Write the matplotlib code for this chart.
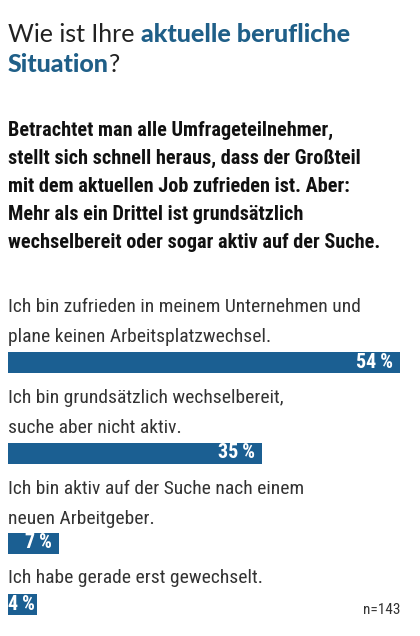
import matplotlib.pyplot as plt

# Daten
labels = [
    "Ich bin zufrieden in meinem Unternehmen und\nplane keinen Arbeitsplatzwechsel.",
    "Ich bin grundsätzlich wechselbereit,\nsuche aber nicht aktiv.",
    "Ich bin aktiv auf der Suche nach einem\nneuen Arbeitgeber.",
    "Ich habe gerade erst gewechselt.",
]
values = [54, 35, 7, 4]
sample_size = 143

title_plain = "Wie ist Ihre "
title_bold_1 = "aktuelle berufliche"
title_bold_2 = "Situation"
intro = ("Betrachtet man alle Umfrageteilnehmer,\n"
         "stellt sich schnell heraus, dass der Großteil\n"
         "mit dem aktuellen Job zufrieden ist. Aber:\n"
         "Mehr als ein Drittel ist grundsätzlich\n"
         "wechselbereit oder sogar aktiv auf der Suche.")

BLUE = "#1b5f92"
TITLE_BLUE = "#1f5f88"
W, H = 420, 636
NARROW = "Roboto Condensed"
TITLE_FONT = "Lato"

fig = plt.figure(figsize=(W / 100, H / 100), dpi=100)
fig.patch.set_facecolor("white")


def px(x, y):
    return x / W, 1 - y / H


# Titel, gemischte Schrift
renderer = fig.canvas.get_renderer()
t1 = fig.text(*px(8, 35), title_plain, fontsize=18, family=TITLE_FONT,
              weight="normal", color="#222222", va="center")
bb = t1.get_window_extent(renderer)
fig.text(bb.x1 / W, 1 - 35 / H, title_bold_1, fontsize=18, family=TITLE_FONT,
         weight="black", color=TITLE_BLUE, va="center")
t3 = fig.text(*px(8, 64), title_bold_2, fontsize=18, family=TITLE_FONT,
              weight="black", color=TITLE_BLUE, va="center")
bb = t3.get_window_extent(renderer)
fig.text(bb.x1 / W, 1 - 64 / H, "?", fontsize=18, family=TITLE_FONT,
         weight="normal", color="#222222", va="center")

fig.text(*px(8, 186), intro, fontsize=14.6, family=NARROW, weight="bold",
         color="#111111", va="center", linespacing=1.6)

# Balken
ax = fig.add_axes([8 / W, 0, (400 - 8) / W, 1])
ax.set_xlim(0, max(values))
ax.set_ylim(H, 0)
ax.axis("off")

bar_y = [362, 453, 543, 604]
label_y = [322, 413, 504, 578]
ax.barh(bar_y, values, height=21, color=BLUE, left=0)
for y, lab, v, ly in zip(bar_y, labels, values, label_y):
    ax.text(0, ly, lab, fontsize=14, family=NARROW, color="#333333",
            va="center", ha="left", linespacing=1.8)
    if v >= 5:
        ax.annotate(f"{v}\u2009%", (v, y), xytext=(-5, 0), textcoords="offset points",
                    ha="right", va="center", color="white", fontsize=14.5,
                    family=NARROW, weight="bold")
    else:
        # Balken zu kurz: Wert beginnt am Balkenanfang
        ax.annotate(f"{v}\u2009%", (0, y), xytext=(0, 0), textcoords="offset points",
                    ha="left", va="center", color="white", fontsize=14.5,
                    family=NARROW, weight="bold")

fig.text(*px(400, 610), f"n={sample_size}", fontsize=11, family=NARROW,
         color="#333333", ha="right", va="center")

fig.savefig("out.png", dpi=100)
